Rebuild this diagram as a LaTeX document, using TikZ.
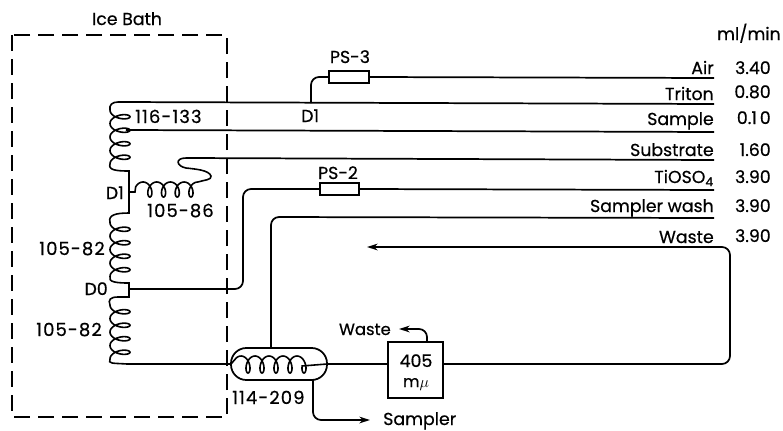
\documentclass[tikz,border=0pt]{standalone}
\usepackage{fontspec}
\setmainfont{Poppins}[RawFeature={embolden=0.5}]
\newfontfamily\tubefont{Poppins}[LetterSpace=6,RawFeature={embolden=0.5}]
\usetikzlibrary{arrows.meta,positioning}
\tikzset{
  declare function={vx(\t,\c)=\c-10*cos(\t); vy(\t,\s)=\s+\t/360*13.5+5*sin(\t);
    hx(\t,\c,\p)=\c+\t/360*\p+5*sin(\t); hy(\t,\s,\r)=\s-\r*cos(\t);},
  coil/.style={smooth,samples=161},
  tube/.style={line width=1.3pt,rounded corners=6pt},
  lbl/.style={anchor=base,inner sep=0pt,font=\fontsize{13}{15}\selectfont},
  lblr/.style={lbl,anchor=base east},
  tubelbl/.style={lbl,font=\tubefont\fontsize{13.5}{15}\selectfont},
  seg/.style={draw,line width=1.3pt,inner sep=0pt,minimum width=30pt,minimum height=9pt},
  flow/.style={-{Stealth[length=8pt,width=5pt]}}
}
\begin{document}
\begin{tikzpicture}[x=0.75pt,y=-0.75pt]
  \useasboundingbox (0,0) rectangle (783,430);
  % ice bath
  \draw[line width=1.3pt,dash pattern=on 12pt off 6pt] (12,35) rectangle (227,417);
  \node[lbl] (bath) at (127,25) {Ice Bath};
  \node[lbl,anchor=base east] (flowunit) at (781,40) {ml/min};
  % inline parts
  \node[seg] (ps3) at (349,77) {};
  \node[seg,minimum width=29pt] (ps2) at (339.5,189) {};
  \node[lbl] (ps3lab) at (350,63) {PS-3};
  \node[lbl] (ps2lab) at (338,179) {PS-2};
  \node[draw,line width=1.3pt,minimum width=41pt,minimum height=42pt,inner sep=0pt] (cell) at (415.5,370) {};
  \node[lbl] (cella) at (416,367) {405};
  \node[lbl,font=\fontsize{12}{14}\selectfont] (cellb) at (416,387) {m$\mu$};
  \node[draw,line width=1.3pt,minimum width=72pt,minimum height=24pt,inner sep=0pt,rounded corners=11.5pt] (bubble) at (279,364) {};
  % reagent labels
  \foreach \nm/\txt/\yy/\val/\yv in {air/Air/74/3.40/74,triton/Triton/100/0.80/98,sample/Sample/125/0.1\,0/124,
      substrate/Substrate/156/1.60/156,tioso/TiOSO\textsubscript{4}/183/3.90/183,wash/Sampler wash/212/3.90/212,waste/Waste/243/3.90/242}{
    \node[lblr] (\nm lab) at (714,\yy) {\txt};
    \node[lblr] (\nm val) at (771,\yv) {\val};
  }
  \coordinate (airend) at (714,78);
  \coordinate (tritonend) at (714,104);
  \coordinate (sampleend) at (714,132);
  \coordinate (substrateend) at (714,160);
  \coordinate (tiosoend) at (714,190);
  \coordinate (washend) at (714,218);
  \coordinate (wastetip) at (367,247);
  \coordinate (cellin) at (388,364);
  \coordinate (cellout) at (443,364);
  % lines
  \draw[tube] (ps3.east) -- (airend);
  \draw[tube] (ps3.west) -- (311,77) -- (311,103);
  \draw[tube] (118,102) -- (tritonend);
  \draw[tube] (126,130) -- (sampleend);
  \draw[tube] (186,158) -- (substrateend);
  \draw[tube] (ps2.east) -- (tiosoend);
  \draw[tube] (ps2.west) -- (243,189) -- (243,289) -- (129,289);
  \draw[tube] (washend) -- (271,217) -- (271,348);
  \draw[tube,flow] (cellout) -- (730,364) -- (730,247) -- (wastetip);
  \draw[tube] (bubble.east) -- (cellin);
  \draw[tube,flow] (313,380) -- (313,420) -- (370,420);
  \draw[tube,flow] (427,342) -- (427,329) -- (399,329);
  % coils in the bath
  \draw[line width=1.2pt] (118,102) .. controls (112,102) and (109,105) .. (110,110)
     -- plot[coil,domain=0:1440] ({vx(\x,120)},{vy(\x,110)}) .. controls (108,170) and (116,171) .. (129,171) -- (129,213)
     .. controls (116,213) and (108,215) .. (110,222)
     -- plot[coil,domain=0:1440] ({vx(\x,120)},{vy(\x,222.5)}) .. controls (108,282) and (116,283) .. (129,283)
     -- (129,297) -- (118,297) .. controls (110,297) and (108,300) .. (110,305)
     -- plot[coil,domain=0:1440] ({vx(\x,120)},{vy(\x,305)}) .. controls (108,364) and (112,363) .. (127,364) -- (bubble.west);
  \draw[line width=1.2pt] (129,192) -- (135,192)
     -- plot[coil,domain=-70:1440] ({hx(\x,143,13.7)},{hy(\x,189.5,7.5)})
     .. controls (204,180) and (212,180) .. (211,176) .. controls (209,170) and (195,169) .. (186,168)
     .. controls (176,166) and (175,158) .. (186,158);
  \draw[line width=1.2pt] (231,364) -- plot[coil,domain=-40:1700] ({hx(\x,241,14)},{hy(\x,364.5,8.5)}) -- (327,364);
  % tube labels
  \node[lbl,anchor=base west] (d1top) at (301,122) {D1};
  \node[tubelbl,anchor=base west] (coila) at (135,123) {116-133};
  \node[lbl,anchor=base east] (d1low) at (124,199) {D1};
  \node[tubelbl,anchor=base west] (coilb) at (147,217) {105-86};
  \node[tubelbl,anchor=base east] (coilc) at (105,255) {105-82};
  \node[lbl,anchor=base east] (d0) at (108,295) {D0};
  \node[tubelbl,anchor=base east] (coild) at (102,336) {105-82};
  \node[tubelbl,anchor=base west] (coile) at (232,404) {114-209};
  \node[lbl,anchor=base west] (samplerlab) at (383,425) {Sampler};
  \node[lbl,anchor=base east,font=\fontsize{12.3}{14}\selectfont] (wastelab) at (391,335) {Waste};
\end{tikzpicture}
\end{document}
